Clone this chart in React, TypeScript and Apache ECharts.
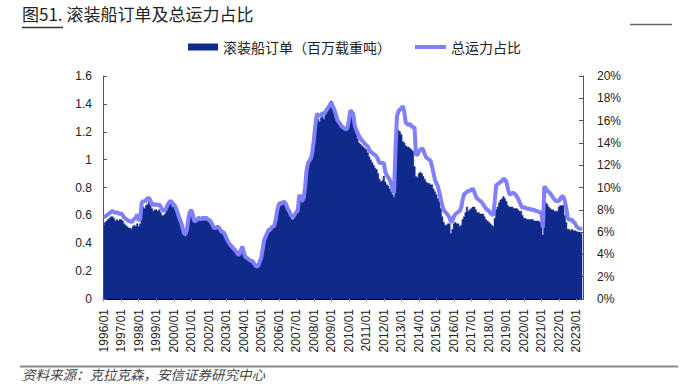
import React, { useEffect, useRef } from "react";
import * as echarts from "echarts";

// Month labels 1996/01 .. 2023/05
const startYear = 1996;
const monthCount = 329;
const categories: string[] = [];
for (let i = 0; i < monthCount; i++) {
  const y = startYear + Math.floor(i / 12);
  const m = (i % 12) + 1;
  categories.push(`${y}/${m < 10 ? "0" + m : m}`);
}

// Ro-Ro orderbook (million dwt), monthly
const orderbook: number[] = [
  // 1996
  0.53, 0.55, 0.56, 0.57, 0.58, 0.59, 0.59, 0.58, 0.56, 0.57, 0.56, 0.57,
  // 1997
  0.57, 0.56, 0.54, 0.53, 0.52, 0.51, 0.51, 0.50, 0.52, 0.53, 0.52, 0.54,
  // 1998
  0.52, 0.54, 0.64, 0.66, 0.65, 0.67, 0.68, 0.70, 0.67, 0.65, 0.63, 0.64,
  // 1999
  0.64, 0.63, 0.64, 0.62, 0.60, 0.60, 0.61, 0.63, 0.66, 0.68, 0.68, 0.66,
  // 2000
  0.66, 0.64, 0.62, 0.59, 0.56, 0.54, 0.50, 0.46, 0.45, 0.48, 0.56, 0.61,
  // 2001
  0.63, 0.60, 0.55, 0.55, 0.56, 0.57, 0.56, 0.56, 0.57, 0.56, 0.57, 0.56,
  // 2002
  0.55, 0.54, 0.53, 0.50, 0.50, 0.50, 0.51, 0.50, 0.48, 0.47, 0.47, 0.45,
  // 2003
  0.43, 0.40, 0.39, 0.37, 0.36, 0.35, 0.34, 0.33, 0.31, 0.31, 0.34, 0.37,
  // 2004
  0.33, 0.30, 0.29, 0.28, 0.27, 0.26, 0.26, 0.25, 0.23, 0.22, 0.23, 0.26,
  // 2005
  0.29, 0.35, 0.41, 0.44, 0.46, 0.48, 0.48, 0.50, 0.51, 0.51, 0.56, 0.62,
  // 2006
  0.66, 0.67, 0.67, 0.68, 0.68, 0.66, 0.63, 0.61, 0.59, 0.57, 0.57, 0.59,
  // 2007
  0.61, 0.62, 0.73, 0.72, 0.69, 0.70, 0.78, 0.90, 0.96, 0.99, 1.0, 1.05,
  // 2008
  1.14, 1.22, 1.31, 1.29, 1.27, 1.30, 1.31, 1.29, 1.32, 1.34, 1.37, 1.41,
  // 2009
  1.42, 1.40, 1.38, 1.34, 1.30, 1.28, 1.27, 1.25, 1.24, 1.23, 1.22, 1.24,
  // 2010
  1.30, 1.35, 1.33, 1.29, 1.22, 1.19, 1.15, 1.12, 1.11, 1.10, 1.09, 1.08,
  // 2011
  1.07, 1.05, 1.02, 1.0, 0.98, 0.96, 0.94, 0.93, 0.90, 0.86, 0.84, 0.85,
  // 2012
  0.88, 0.84, 0.82, 0.81, 0.79, 0.77, 0.75, 0.73, 0.98, 1.22, 1.21, 1.20,
  // 2013
  1.18, 1.13, 1.12, 1.10, 1.09, 1.09, 1.08, 1.07, 1.06, 0.95, 0.88, 0.87,
  // 2014
  0.90, 0.91, 0.90, 0.88, 0.86, 0.84, 0.83, 0.83, 0.82, 0.82, 0.79, 0.77,
  // 2015
  0.75, 0.72, 0.70, 0.65, 0.59, 0.55, 0.53, 0.53, 0.54, 0.54, 0.47, 0.50,
  // 2016
  0.54, 0.55, 0.54, 0.54, 0.52, 0.53, 0.57, 0.59, 0.62, 0.66, 0.63, 0.64,
  // 2017
  0.65, 0.66, 0.66, 0.64, 0.62, 0.62, 0.61, 0.61, 0.61, 0.59, 0.57, 0.56,
  // 2018
  0.55, 0.54, 0.53, 0.52, 0.58, 0.64, 0.66, 0.69, 0.71, 0.72, 0.735, 0.72,
  // 2019
  0.70, 0.67, 0.66, 0.66, 0.66, 0.65, 0.65, 0.65, 0.64, 0.63, 0.63, 0.60,
  // 2020
  0.58, 0.58, 0.57, 0.57, 0.57, 0.57, 0.57, 0.56, 0.56, 0.56, 0.56, 0.55,
  // 2021
  0.55, 0.46, 0.70, 0.69, 0.68, 0.66, 0.65, 0.64, 0.64, 0.63, 0.63, 0.63,
  // 2022
  0.66, 0.67, 0.67, 0.67, 0.60, 0.55, 0.50, 0.50, 0.49, 0.50, 0.49, 0.49,
  // 2023
  0.485, 0.48, 0.48, 0.47, 0.47,
];

// Orderbook as % of total fleet capacity, monthly
const fleetShare: number[] = [
  // 1996
  7.3, 7.4, 7.5, 7.6, 7.7, 7.8, 7.9, 7.8, 7.7, 7.8, 7.7, 7.6,
  // 1997
  7.7, 7.5, 7.3, 7.2, 7.1, 7.0, 7.0, 6.9, 7.0, 7.2, 7.3, 7.6,
  // 1998
  7.0, 7.2, 8.6, 8.8, 8.7, 8.9, 9.0, 9.1, 8.8, 8.6, 8.4, 8.5,
  // 1999
  8.5, 8.4, 8.5, 8.3, 8.0, 7.9, 8.0, 8.2, 8.5, 8.7, 8.8, 8.6,
  // 2000
  8.5, 8.3, 8.0, 7.6, 7.2, 6.9, 6.4, 5.9, 5.8, 6.2, 7.2, 7.8,
  // 2001
  8.0, 7.6, 7.0, 7.0, 7.1, 7.3, 7.2, 7.2, 7.3, 7.2, 7.3, 7.2,
  // 2002
  7.1, 7.0, 6.8, 6.5, 6.4, 6.4, 6.5, 6.4, 6.2, 6.0, 6.0, 5.8,
  // 2003
  5.5, 5.2, 5.0, 4.8, 4.7, 4.5, 4.4, 4.2, 4.0, 4.0, 4.4, 4.7,
  // 2004
  4.2, 3.8, 3.7, 3.6, 3.5, 3.4, 3.4, 3.2, 3.0, 2.9, 3.0, 3.4,
  // 2005
  3.7, 4.5, 5.3, 5.6, 5.9, 6.2, 6.2, 6.4, 6.5, 6.6, 7.2, 8.0,
  // 2006
  8.5, 8.6, 8.6, 8.7, 8.7, 8.5, 8.1, 7.9, 7.6, 7.4, 7.4, 7.6,
  // 2007
  7.8, 7.9, 9.3, 9.2, 8.9, 9.0, 10.0, 11.5, 12.2, 12.4, 12.6, 13.2,
  // 2008
  14.2, 15.5, 16.6, 16.5, 16.4, 16.5, 16.7, 16.6, 16.8, 17.0, 17.2, 17.4,
  // 2009
  17.6, 17.3, 17.0, 16.6, 16.1, 15.9, 15.7, 15.5, 15.4, 15.3, 15.2, 15.3,
  // 2010
  16.0, 16.9, 16.8, 16.6, 15.6, 15.2, 14.9, 14.6, 14.4, 14.2, 14.1, 13.9,
  // 2011
  13.8, 13.7, 13.4, 13.2, 13.1, 13.0, 12.9, 12.8, 12.5, 12.2, 12.2, 12.2,
  // 2012
  12.2, 11.4, 11.1, 10.9, 10.7, 10.3, 9.9, 9.5, 13.5, 16.4, 16.8, 17.0,
  // 2013
  17.1, 17.3, 16.8, 15.8, 15.7, 15.6, 15.7, 15.5, 15.4, 15.4, 13.0, 12.9,
  // 2014
  13.2, 13.4, 13.5, 13.4, 13.0, 12.7, 12.6, 12.5, 12.4, 11.9, 11.3, 10.7,
  // 2015
  10.4, 10.1, 9.6, 9.0, 8.4, 8.0, 7.8, 7.7, 7.5, 7.3, 6.9, 7.0,
  // 2016
  7.4, 7.6, 7.7, 7.8, 7.9, 8.2, 8.9, 9.4, 9.5, 9.6, 9.7, 9.7,
  // 2017
  9.8, 9.9, 9.6, 9.2, 9.0, 8.9, 8.8, 8.7, 8.5, 8.3, 8.1, 8.0,
  // 2018
  7.9, 7.7, 7.6, 7.5, 8.8, 10.2, 10.3, 10.4, 10.5, 10.6, 10.8, 10.7,
  // 2019
  10.5, 9.9, 9.4, 9.4, 9.5, 9.5, 9.4, 9.2, 9.0, 8.7, 8.4, 8.2,
  // 2020
  8.2, 8.2, 8.1, 8.1, 8.1, 8.0, 8.0, 8.0, 7.9, 7.9, 7.8, 7.8,
  // 2021
  7.7, 6.4, 10.1, 9.9, 9.7, 9.6, 9.5, 9.3, 9.1, 8.9, 8.8, 8.8,
  // 2022
  8.8, 9.0, 9.2, 9.2, 8.8, 8.2, 7.3, 7.1, 7.1, 7.1, 6.9, 6.8,
  // 2023
  6.5, 6.4, 6.3, 6.3, 6.3,
];

const seriesNames = ["滚装船订单（百万载重吨）", "总运力占比"];
const titleText = "图51. 滚装船订单及总运力占比";
const sourceText = "资料来源：克拉克森，安信证券研究中心";

const BAR_COLOR = "#102A8C";
const LINE_COLOR = "#7F7FFF";
const AXIS_FONT = "'Liberation Sans', Arial, sans-serif";
const CJK_FONT = "'Noto Sans CJK SC', sans-serif";

export default function App() {
  const ref = useRef<HTMLDivElement>(null);

  useEffect(() => {
    if (!ref.current) return;
    const chart = echarts.init(ref.current, undefined, { renderer: "svg" });
    const legendText = { fontFamily: CJK_FONT, fontSize: 14, color: "#222" };
    chart.setOption({
      animation: false,
      backgroundColor: "#ffffff",
      grid: { left: 103, right: 109, top: 76, bottom: 91 },
      legend: [
        {
          top: 35,
          left: 183,
          itemWidth: 30,
          itemHeight: 7,
          textStyle: legendText,
          data: [{ name: seriesNames[0], icon: "rect" }],
        },
        {
          top: 35,
          left: 410,
          itemWidth: 31,
          itemHeight: 4,
          textStyle: legendText,
          data: [{ name: seriesNames[1], icon: "rect" }],
        },
      ],
      xAxis: {
        type: "category",
        data: categories,
        boundaryGap: true,
        axisLine: { lineStyle: { color: "#000", width: 1.2 } },
        axisTick: {
          show: true,
          interval: 11,
          alignWithLabel: true,
          length: 3,
          lineStyle: { color: "#aaa" },
        },
        axisLabel: {
          interval: 11,
          rotate: 90,
          margin: 10,
          fontFamily: AXIS_FONT,
          fontSize: 12,
          color: "#222",
        },
        splitLine: { show: false },
      },
      yAxis: [
        {
          type: "value",
          min: 0,
          max: 1.6,
          interval: 0.2,
          axisLine: { show: true, lineStyle: { color: "#555" } },
          axisTick: { show: true, inside: true, length: 4, lineStyle: { color: "#555" } },
          axisLabel: {
            margin: 11,
            fontFamily: AXIS_FONT,
            fontSize: 12,
            color: "#222",
          },
          splitLine: { show: false },
        },
        {
          type: "value",
          min: 0,
          max: 20,
          interval: 2,
          position: "right",
          axisLine: { show: true, lineStyle: { color: "#555" } },
          axisTick: { show: true, inside: true, length: 4, lineStyle: { color: "#555" } },
          axisLabel: {
            margin: 14,
            formatter: "{value}%",
            fontFamily: AXIS_FONT,
            fontSize: 12,
            color: "#222",
          },
          splitLine: { show: false },
        },
      ],
      series: [
        {
          name: seriesNames[0],
          type: "line",
          step: "middle",
          yAxisIndex: 0,
          data: orderbook,
          symbol: "none",
          lineStyle: { width: 0.5, color: BAR_COLOR },
          areaStyle: { color: BAR_COLOR, opacity: 1 },
          itemStyle: { color: BAR_COLOR },
          z: 2,
        },
        {
          name: seriesNames[1],
          type: "line",
          yAxisIndex: 1,
          data: fleetShare,
          symbol: "none",
          lineStyle: { color: LINE_COLOR, width: 4 },
          itemStyle: { color: LINE_COLOR },
          z: 3,
        },
      ],
      graphic: [
        {
          type: "text",
          left: 22,
          top: 5,
          style: {
            text: titleText,
            fontFamily: CJK_FONT,
            fontSize: 17,
            fill: "#222",
          },
        },
        {
          type: "line",
          shape: { x1: 22, y1: 27.5, x2: 63, y2: 27.5 },
          style: { stroke: "#333", lineWidth: 1.5 },
        },
        {
          type: "line",
          shape: { x1: 630, y1: 24.5, x2: 672, y2: 24.5 },
          style: { stroke: "#666", lineWidth: 1.3 },
        },
        {
          type: "line",
          shape: { x1: 20, y1: 366.5, x2: 678, y2: 366.5 },
          style: { stroke: "#888", lineWidth: 2 },
        },
        {
          type: "text",
          left: 22,
          top: 367,
          style: {
            text: sourceText,
            fontFamily: CJK_FONT,
            fontSize: 13.5,
            fontStyle: "italic",
            fill: "#444",
          },
        },
      ],
    });
    return () => chart.dispose();
  }, []);

  return (
    <div
      ref={ref}
      style={{ position: "fixed", left: 0, top: 0, width: 692, height: 390 }}
    />
  );
}
